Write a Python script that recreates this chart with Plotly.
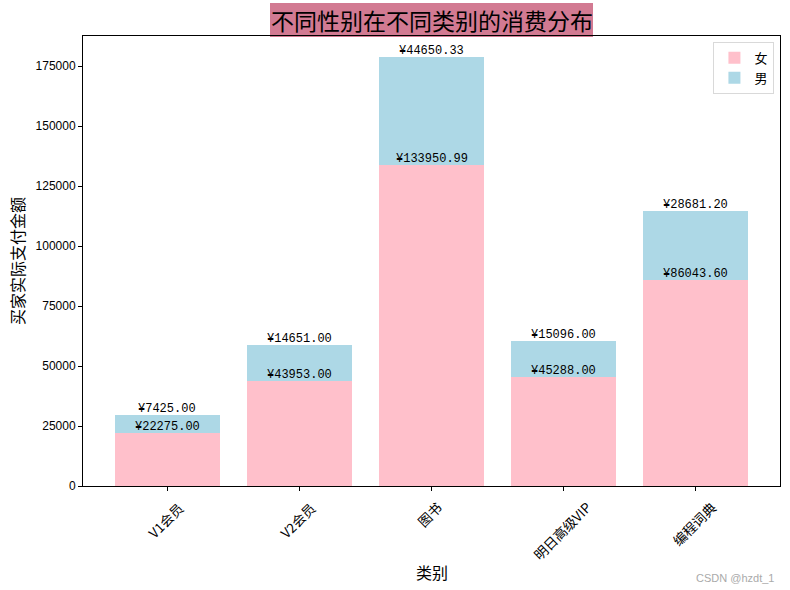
import plotly.graph_objects as go

categories = ['V1会员', 'V2会员', '图书', '明日高级VIP', '编程词典']
female = [22275.00, 43953.00, 133950.99, 45288.00, 86043.60]
male = [7425.00, 14651.00, 44650.33, 15096.00, 28681.20]
yticks = [0, 25000, 50000, 75000, 100000, 125000, 150000, 175000]

CJK = "Noto Sans CJK SC, Liberation Sans, sans-serif"
LAT = "Liberation Sans, Noto Sans CJK SC, sans-serif"
MONO = "Liberation Mono, Noto Sans CJK SC, monospace"

x = list(range(len(categories)))
fig = go.Figure()
fig.add_trace(go.Bar(x=x, y=female, name='女', marker=dict(color='pink', line=dict(width=0))))
fig.add_trace(go.Bar(x=x, y=male, name='男', marker=dict(color='lightblue', line=dict(width=0))))

annotations = []
for i, (f, m) in enumerate(zip(female, male)):
    annotations.append(dict(x=i, y=f, xref='x', yref='y', text='¥%.2f' % f, showarrow=False,
                            yanchor='bottom', xanchor='center', yshift=-3,
                            font=dict(family=MONO, size=12, color='black')))
    annotations.append(dict(x=i, y=f + m, xref='x', yref='y', text='¥%.2f' % m, showarrow=False,
                            yanchor='bottom', xanchor='center', yshift=-3,
                            font=dict(family=MONO, size=12, color='black')))

# rotated category labels, centred under each tick
for i, c in enumerate(categories):
    annotations.append(dict(x=i, y=0, xref='x', yref='paper', text=c, showarrow=False,
                            textangle=-45, xanchor='center', yanchor='top', yshift=-9, xshift=-2,
                            font=dict(family=CJK, size=13.5, color='black')))

annotations.append(dict(x=0.5, y=1.0356, xref='paper', yref='paper', text='不同性别在不同类别的消费分布',
                        showarrow=False, yanchor='middle', xanchor='center',
                        font=dict(family=CJK, size=23, color='black')))
annotations.append(dict(x=0.5, y=0, xref='paper', yref='paper', text='类别', showarrow=False,
                        xanchor='center', yanchor='middle', yshift=-86,
                        font=dict(family=CJK, size=16, color='black')))
annotations.append(dict(x=1, y=0, xref='paper', yref='paper', text='CSDN @hzdt_1', showarrow=False,
                        xanchor='right', yanchor='bottom', yshift=-100, xshift=-4,
                        font=dict(family=LAT, size=11, color='#aaaaaa')))

shapes = [dict(type='rect', xref='paper', yref='paper',
               x0=(270 - 83) / 697, x1=(593 - 83) / 697,
               y0=(486 - 37) / 450, y1=(486 - 3) / 450,
               fillcolor='#D27A92', line=dict(width=0), layer='below')]

fig.update_layout(
    width=790, height=590,
    margin=dict(l=83, r=10, t=36, b=104),
    barmode='stack', bargap=0.2,
    plot_bgcolor='white', paper_bgcolor='white',
    font=dict(family=LAT, size=12, color='black'),
    showlegend=True,
    legend=dict(x=0.992, y=0.987, xanchor='right', yanchor='top', traceorder='normal',
                bgcolor='white', bordercolor='#d9d9d9', borderwidth=1, itemwidth=30,
                tracegroupgap=0, font=dict(family=CJK, size=13)),
    annotations=annotations,
    shapes=shapes,
)
fig.update_xaxes(
    range=[-0.64, 4.64], tickmode='array', tickvals=x, ticktext=['' for _ in categories],
    ticks='outside', ticklen=4, tickcolor='black',
    showline=True, linecolor='black', linewidth=1, mirror=True, showgrid=False, zeroline=False,
)
fig.update_yaxes(
    range=[0, 187531], tickmode='array', tickvals=yticks, ticktext=[str(v) for v in yticks],
    ticks='outside', ticklen=4, tickcolor='black',
    showline=True, linecolor='black', linewidth=1, mirror=True, showgrid=False, zeroline=False,
    tickfont=dict(family=LAT, size=12),
    title=dict(text='买家实际支付金额', font=dict(family=CJK, size=16), standoff=6),
)

fig.write_html("out.html")
